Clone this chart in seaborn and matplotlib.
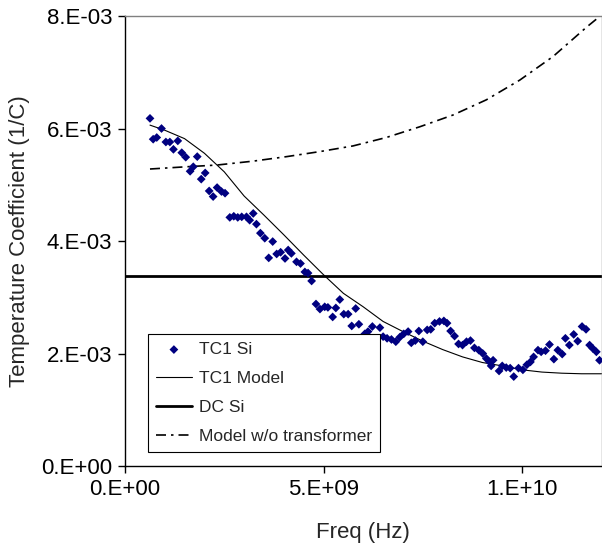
import numpy as np
import pandas as pd
import matplotlib
matplotlib.use('Agg')
import matplotlib.pyplot as plt
from matplotlib.ticker import FuncFormatter
import seaborn as sns

# measured points: frequency (GHz) and TC (x1e-3 1/C)
freq_ghz = [0.63, 0.71, 0.80, 0.92, 1.03, 1.13, 1.22, 1.33, 1.43, 1.53,
            1.64, 1.72, 1.82, 1.92, 2.02, 2.12, 2.22, 2.32, 2.43, 2.52,
            2.64, 2.74, 2.84, 2.94, 3.06, 3.14, 3.23, 3.31, 3.41, 3.52,
            3.62, 3.72, 3.82, 3.92, 4.03, 4.11, 4.19, 4.32, 4.42, 4.53,
            4.61, 4.70, 4.81, 4.91, 5.03, 5.11, 5.23, 5.31, 5.41, 5.51,
            5.62, 5.71, 5.81, 5.89, 6.04, 6.12, 6.23, 6.29, 6.42, 6.50,
            6.60, 6.71, 6.82, 6.92, 7.02, 7.13, 7.21, 7.31, 7.40, 7.50,
            7.61, 7.70, 7.80, 7.92, 8.03, 8.11, 8.20, 8.30, 8.40, 8.50,
            8.60, 8.70, 8.80, 8.91, 9.01, 9.10, 9.18, 9.22, 9.27, 9.42,
            9.50, 9.60, 9.70, 9.79, 9.91, 10.02, 10.12, 10.21, 10.29, 10.40,
            10.48, 10.59, 10.69, 10.80, 10.90, 11.01, 11.09, 11.19, 11.30, 11.40,
            11.51, 11.61, 11.70, 11.78, 11.87, 11.95]
tc1_si = [6.18, 5.81, 5.84, 6.00, 5.76, 5.76, 5.63, 5.78, 5.57, 5.49,
          5.24, 5.32, 5.50, 5.10, 5.21, 4.89, 4.79, 4.95, 4.88, 4.85,
          4.42, 4.44, 4.42, 4.43, 4.43, 4.37, 4.49, 4.30, 4.14, 4.05,
          3.70, 3.99, 3.77, 3.80, 3.69, 3.84, 3.78, 3.63, 3.60, 3.45,
          3.43, 3.29, 2.88, 2.79, 2.83, 2.82, 2.65, 2.81, 2.96, 2.70,
          2.70, 2.49, 2.80, 2.52, 2.35, 2.39, 2.48, 2.16, 2.46, 2.30,
          2.27, 2.25, 2.21, 2.29, 2.35, 2.39, 2.19, 2.23, 2.40, 2.21,
          2.42, 2.43, 2.54, 2.57, 2.58, 2.54, 2.40, 2.31, 2.17, 2.15,
          2.21, 2.23, 2.10, 2.06, 2.00, 1.91, 1.85, 1.78, 1.88, 1.69,
          1.78, 1.75, 1.74, 1.59, 1.74, 1.71, 1.80, 1.85, 1.94, 2.06,
          2.03, 2.05, 2.16, 1.90, 2.06, 1.99, 2.27, 2.15, 2.34, 2.22,
          2.48, 2.43, 2.15, 2.09, 2.03, 1.88]

# TC1 model curve
model_ghz = [0.63, 1.0, 1.5, 2.0, 2.5, 3.0, 3.5, 4.0, 4.5, 5.0, 5.5, 6.0,
             6.5, 7.0, 7.5, 8.0, 8.5, 9.0, 9.5, 10.0, 10.5, 11.0, 11.5, 12.0]
tc1_model = [6.06, 5.97, 5.82, 5.56, 5.23, 4.80, 4.46, 4.11, 3.75, 3.40, 3.07, 2.83,
             2.57, 2.39, 2.22, 2.07, 1.94, 1.84, 1.78, 1.71, 1.67, 1.65, 1.64, 1.64]

# model without transformer
wo_ghz = [0.63, 1.55, 2.31, 3.23, 4.07, 4.91, 5.74, 6.58, 7.42, 8.26,
          9.10, 9.94, 10.78, 11.62, 11.95]
model_wo = [5.28, 5.32, 5.35, 5.42, 5.50, 5.59, 5.69, 5.84, 6.03, 6.24,
            6.51, 6.86, 7.28, 7.80, 7.99]

dc_si = 3.38  # x1e-3

sns.set_style('white')
plt.rcParams['font.family'] = ['Liberation Sans', 'DejaVu Sans']

pts = pd.DataFrame({'freq': np.array(freq_ghz) * 1e9, 'tc': np.array(tc1_si) * 1e-3})
model = pd.DataFrame({'freq': np.array(model_ghz) * 1e9, 'tc': np.array(tc1_model) * 1e-3})
wo = pd.DataFrame({'freq': np.array(wo_ghz) * 1e9, 'tc': np.array(model_wo) * 1e-3})

fig = plt.figure(figsize=(6.02, 5.5), dpi=100)
ax = fig.add_axes([0.2076, 0.1527, 0.7916, 0.8182])

sns.scatterplot(data=pts, x='freq', y='tc', marker='D', s=20, color='#000080',
                edgecolor='none', linewidth=0, ax=ax, label='TC1 Si', zorder=3)
sns.lineplot(data=model, x='freq', y='tc', color='black', lw=0.8, ax=ax,
             label='TC1 Model', estimator=None, sort=False)
ax.axhline(dc_si * 1e-3, color='black', lw=2, label='DC Si')
sns.lineplot(data=wo, x='freq', y='tc', color='black', lw=1.2, ax=ax,
             linestyle=(0, (6, 3, 1.5, 3)), label='Model w/o transformer',
             estimator=None, sort=False)

ax.set_xlim(0, 1.2e10)
ax.set_ylim(0, 8e-3)
ax.set_xticks([0, 5e9, 1e10])
ax.set_yticks([0, 2e-3, 4e-3, 6e-3, 8e-3])


def excel_sci(v, pos):
    s = '%.0E' % v
    return s.replace('E', '.E')


ax.xaxis.set_major_formatter(FuncFormatter(excel_sci))
ax.yaxis.set_major_formatter(FuncFormatter(excel_sci))
ax.tick_params(bottom=True, left=True, direction='out', length=5, width=1,
               labelsize=16, pad=4, colors='black')

for side in ['left', 'bottom']:
    ax.spines[side].set_color('black')
    ax.spines[side].set_linewidth(1)
for side in ['top', 'right']:
    ax.spines[side].set_color('#808080')
    ax.spines[side].set_linewidth(1)

ax.set_xlabel('Freq (Hz)', fontsize=16, labelpad=16)
ax.set_ylabel('Temperature Coefficient (1/C)', fontsize=16, labelpad=8)

leg = ax.legend(loc='lower left', bbox_to_anchor=(0.048, 0.031), frameon=True,
                fancybox=False, edgecolor='black', fontsize=12.5, handlelength=2.1,
                labelspacing=0.8, borderpad=0.45, borderaxespad=0,
                handletextpad=0.4, framealpha=1)
leg.get_frame().set_linewidth(0.8)

fig.savefig('out.png', dpi=100)
